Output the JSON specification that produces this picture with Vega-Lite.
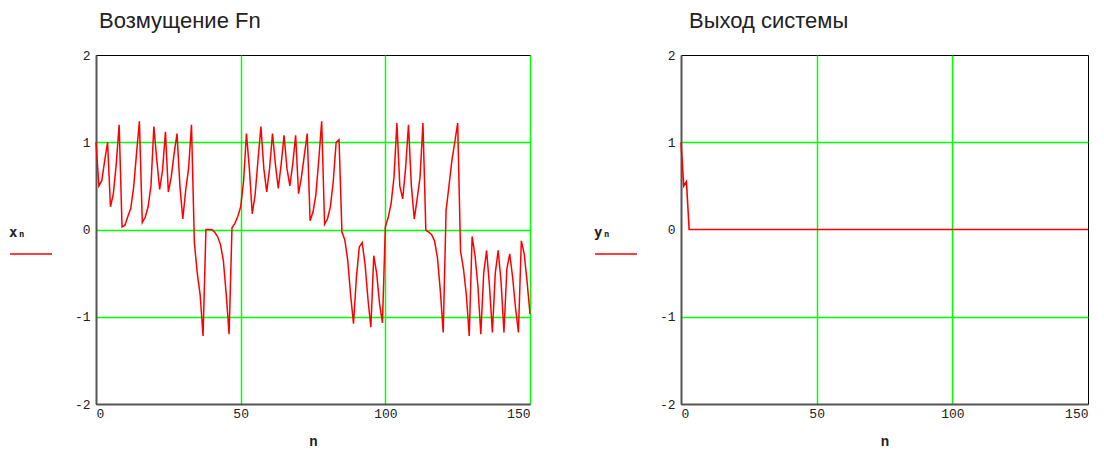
{
  "$schema": "https://vega.github.io/schema/vega-lite/v6.json",
  "padding": {"left": 8, "top": 9, "right": 5, "bottom": 5},
  "background": "white",
  "config": {
    "view": {"stroke": "black", "strokeWidth": 1},
    "axis": {
      "labelFont": "Liberation Mono", "labelFontSize": 13, "labelColor": "#222",
      "titleFont": "Liberation Mono", "titleFontSize": 14, "titleFontWeight": "bold", "titleColor": "#222",
      "ticks": false, "domainColor": "#555", "domainWidth": 2,
      "gridColor": "#00ff00", "gridWidth": 1.5, "gridOpacity": 1, "zindex": 0
    },
    "title": {"font": "Liberation Sans", "fontSize": 22, "fontWeight": "normal", "color": "#222", "anchor": "start", "frame": "group"},
    "legend": {"titleFont": "DejaVu Sans Mono", "titleFontSize": 14, "titleFontWeight": "bold", "titleColor": "#222", "padding": 0}
  },
  "datasets": {
    "fn": [
      {"n":0,"x":1.0},{"n":1,"x":0.5},{"n":2,"x":0.56},{"n":3,"x":0.79},{"n":4,"x":1.0},{"n":5,"x":0.26},{"n":6,"x":0.41},{"n":7,"x":0.75},{"n":8,"x":1.2},{"n":9,"x":0.03},
      {"n":10,"x":0.05},{"n":11,"x":0.15},{"n":12,"x":0.24},{"n":13,"x":0.48},{"n":14,"x":0.87},{"n":15,"x":1.24},{"n":16,"x":0.08},{"n":17,"x":0.14},{"n":18,"x":0.26},{"n":19,"x":0.5},
      {"n":20,"x":1.18},{"n":21,"x":0.8},{"n":22,"x":0.46},{"n":23,"x":0.68},{"n":24,"x":1.12},{"n":25,"x":0.43},{"n":26,"x":0.6},{"n":27,"x":0.87},{"n":28,"x":1.1},{"n":29,"x":0.5},
      {"n":30,"x":0.12},{"n":31,"x":0.45},{"n":32,"x":0.7},{"n":33,"x":1.2},{"n":34,"x":-0.15},{"n":35,"x":-0.5},{"n":36,"x":-0.75},{"n":37,"x":-1.22},{"n":38,"x":0.0},{"n":39,"x":0.0},
      {"n":40,"x":0.0},{"n":41,"x":-0.03},{"n":42,"x":-0.08},{"n":43,"x":-0.17},{"n":44,"x":-0.35},{"n":45,"x":-0.74},{"n":46,"x":-1.2},{"n":47,"x":0.02},{"n":48,"x":0.07},{"n":49,"x":0.15},
      {"n":50,"x":0.26},{"n":51,"x":0.55},{"n":52,"x":1.1},{"n":53,"x":0.7},{"n":54,"x":0.18},{"n":55,"x":0.4},{"n":56,"x":0.8},{"n":57,"x":1.18},{"n":58,"x":0.7},{"n":59,"x":0.43},
      {"n":60,"x":0.7},{"n":61,"x":1.1},{"n":62,"x":0.75},{"n":63,"x":0.47},{"n":64,"x":0.75},{"n":65,"x":1.08},{"n":66,"x":0.7},{"n":67,"x":0.5},{"n":68,"x":0.75},{"n":69,"x":1.08},
      {"n":70,"x":0.41},{"n":71,"x":0.6},{"n":72,"x":0.85},{"n":73,"x":1.1},{"n":74,"x":0.1},{"n":75,"x":0.2},{"n":76,"x":0.4},{"n":77,"x":0.8},{"n":78,"x":1.24},{"n":79,"x":0.06},
      {"n":80,"x":0.12},{"n":81,"x":0.26},{"n":82,"x":0.55},{"n":83,"x":1.0},{"n":84,"x":1.03},{"n":85,"x":-0.03},{"n":86,"x":-0.12},{"n":87,"x":-0.35},{"n":88,"x":-0.75},{"n":89,"x":-1.08},
      {"n":90,"x":-0.55},{"n":91,"x":-0.2},{"n":92,"x":-0.15},{"n":93,"x":-0.4},{"n":94,"x":-0.8},{"n":95,"x":-1.12},{"n":96,"x":-0.3},{"n":97,"x":-0.5},{"n":98,"x":-0.85},{"n":99,"x":-1.07},
      {"n":100,"x":0.03},{"n":101,"x":0.14},{"n":102,"x":0.3},{"n":103,"x":0.6},{"n":104,"x":1.22},{"n":105,"x":0.5},{"n":106,"x":0.35},{"n":107,"x":0.7},{"n":108,"x":1.2},{"n":109,"x":0.5},
      {"n":110,"x":0.12},{"n":111,"x":0.35},{"n":112,"x":0.6},{"n":113,"x":1.22},{"n":114,"x":-0.01},{"n":115,"x":-0.03},{"n":116,"x":-0.06},{"n":117,"x":-0.13},{"n":118,"x":-0.32},{"n":119,"x":-0.7},
      {"n":120,"x":-1.18},{"n":121,"x":0.22},{"n":122,"x":0.5},{"n":123,"x":0.79},{"n":124,"x":1.0},{"n":125,"x":1.22},{"n":126,"x":-0.25},{"n":127,"x":-0.45},{"n":128,"x":-0.75},{"n":129,"x":-1.22},
      {"n":130,"x":-0.08},{"n":131,"x":-0.3},{"n":132,"x":-0.65},{"n":133,"x":-1.2},{"n":134,"x":-0.5},{"n":135,"x":-0.24},{"n":136,"x":-0.65},{"n":137,"x":-1.18},{"n":138,"x":-0.5},{"n":139,"x":-0.24},
      {"n":140,"x":-0.6},{"n":141,"x":-1.18},{"n":142,"x":-0.45},{"n":143,"x":-0.28},{"n":144,"x":-0.55},{"n":145,"x":-0.9},{"n":146,"x":-1.18},{"n":147,"x":-0.13},{"n":148,"x":-0.28},{"n":149,"x":-0.6},
      {"n":150,"x":-0.97}
    ],
    "out": [
      {"n":0,"y":1.0},{"n":1,"y":0.5},{"n":2,"y":0.55},{"n":3,"y":0},{"n":4,"y":0},{"n":5,"y":0},{"n":6,"y":0},{"n":7,"y":0},{"n":8,"y":0},{"n":9,"y":0},
      {"n":10,"y":0},{"n":11,"y":0},{"n":12,"y":0},{"n":13,"y":0},{"n":14,"y":0},{"n":15,"y":0},{"n":16,"y":0},{"n":17,"y":0},{"n":18,"y":0},{"n":19,"y":0},
      {"n":20,"y":0},{"n":21,"y":0},{"n":22,"y":0},{"n":23,"y":0},{"n":24,"y":0},{"n":25,"y":0},{"n":26,"y":0},{"n":27,"y":0},{"n":28,"y":0},{"n":29,"y":0},
      {"n":30,"y":0},{"n":31,"y":0},{"n":32,"y":0},{"n":33,"y":0},{"n":34,"y":0},{"n":35,"y":0},{"n":36,"y":0},{"n":37,"y":0},{"n":38,"y":0},{"n":39,"y":0},
      {"n":40,"y":0},{"n":41,"y":0},{"n":42,"y":0},{"n":43,"y":0},{"n":44,"y":0},{"n":45,"y":0},{"n":46,"y":0},{"n":47,"y":0},{"n":48,"y":0},{"n":49,"y":0},
      {"n":50,"y":0},{"n":51,"y":0},{"n":52,"y":0},{"n":53,"y":0},{"n":54,"y":0},{"n":55,"y":0},{"n":56,"y":0},{"n":57,"y":0},{"n":58,"y":0},{"n":59,"y":0},
      {"n":60,"y":0},{"n":61,"y":0},{"n":62,"y":0},{"n":63,"y":0},{"n":64,"y":0},{"n":65,"y":0},{"n":66,"y":0},{"n":67,"y":0},{"n":68,"y":0},{"n":69,"y":0},
      {"n":70,"y":0},{"n":71,"y":0},{"n":72,"y":0},{"n":73,"y":0},{"n":74,"y":0},{"n":75,"y":0},{"n":76,"y":0},{"n":77,"y":0},{"n":78,"y":0},{"n":79,"y":0},
      {"n":80,"y":0},{"n":81,"y":0},{"n":82,"y":0},{"n":83,"y":0},{"n":84,"y":0},{"n":85,"y":0},{"n":86,"y":0},{"n":87,"y":0},{"n":88,"y":0},{"n":89,"y":0},
      {"n":90,"y":0},{"n":91,"y":0},{"n":92,"y":0},{"n":93,"y":0},{"n":94,"y":0},{"n":95,"y":0},{"n":96,"y":0},{"n":97,"y":0},{"n":98,"y":0},{"n":99,"y":0},
      {"n":100,"y":0},{"n":101,"y":0},{"n":102,"y":0},{"n":103,"y":0},{"n":104,"y":0},{"n":105,"y":0},{"n":106,"y":0},{"n":107,"y":0},{"n":108,"y":0},{"n":109,"y":0},
      {"n":110,"y":0},{"n":111,"y":0},{"n":112,"y":0},{"n":113,"y":0},{"n":114,"y":0},{"n":115,"y":0},{"n":116,"y":0},{"n":117,"y":0},{"n":118,"y":0},{"n":119,"y":0},
      {"n":120,"y":0},{"n":121,"y":0},{"n":122,"y":0},{"n":123,"y":0},{"n":124,"y":0},{"n":125,"y":0},{"n":126,"y":0},{"n":127,"y":0},{"n":128,"y":0},{"n":129,"y":0},
      {"n":130,"y":0},{"n":131,"y":0},{"n":132,"y":0},{"n":133,"y":0},{"n":134,"y":0},{"n":135,"y":0},{"n":136,"y":0},{"n":137,"y":0},{"n":138,"y":0},{"n":139,"y":0},
      {"n":140,"y":0},{"n":141,"y":0},{"n":142,"y":0},{"n":143,"y":0},{"n":144,"y":0},{"n":145,"y":0},{"n":146,"y":0},{"n":147,"y":0},{"n":148,"y":0},{"n":149,"y":0},
      {"n":150,"y":0}
    ]
  },
  "spacing": 151,
  "bounds": "flush",
  "resolve": {"scale": {"color": "independent"}, "legend": {"color": "independent"}},
  "hconcat": [
    {
      "title": {"text": "Возмущение Fn", "offset": 16, "dx": 3},
      "width": 434,
      "height": 349,
      "data": {"name": "fn"},
      "mark": {"type": "line", "strokeWidth": 1.5},
      "encoding": {
        "x": {"field": "n", "type": "quantitative", "scale": {"domain": [0, 150], "nice": false, "zero": false},
          "axis": {"values": [0, 50, 100, 150], "title": "n", "labelPadding": 3, "titlePadding": 14,
            "gridColor": {"condition": {"test": "datum.value === 0", "value": "transparent"}, "value": "#00ff00"}}},
        "y": {"field": "x", "type": "quantitative", "scale": {"domain": [-2, 2], "nice": false},
          "axis": {"values": [-2, -1, 0, 1, 2], "title": null, "labelPadding": 6, "labelExpr": "'' + datum.value",
            "gridColor": {"condition": {"test": "abs(datum.value) === 2", "value": "transparent"}, "value": "#00ff00"}}},
        "color": {"datum": "xₙ", "scale": {"range": ["#ff0000"]},
          "legend": {"title": "xₙ", "labelExpr": "''", "orient": "none", "legendX": -87, "legendY": 171,
            "symbolType": "stroke", "symbolSize": 1764, "symbolStrokeWidth": 1.5, "titlePadding": -8}}
      }
    },
    {
      "title": {"text": "Выход системы", "offset": 16, "dx": 8},
      "width": 407,
      "height": 349,
      "data": {"name": "out"},
      "mark": {"type": "line", "strokeWidth": 1.6},
      "encoding": {
        "x": {"field": "n", "type": "quantitative", "scale": {"domain": [0, 150], "nice": false, "zero": false},
          "axis": {"values": [0, 50, 100, 150], "title": "n", "labelPadding": 3, "titlePadding": 14,
            "gridColor": {"condition": {"test": "datum.value === 0 || datum.value === 150", "value": "transparent"}, "value": "#00ff00"}}},
        "y": {"field": "y", "type": "quantitative", "scale": {"domain": [-2, 2], "nice": false},
          "axis": {"values": [-2, -1, 0, 1, 2], "title": null, "labelPadding": 6, "labelExpr": "'' + datum.value",
            "gridColor": {"condition": {"test": "abs(datum.value) === 2 || datum.value === 0", "value": "transparent"}, "value": "#00ff00"}}},
        "color": {"datum": "yₙ", "scale": {"range": ["#ff0000"]},
          "legend": {"title": "yₙ", "labelExpr": "''", "orient": "none", "legendX": -87, "legendY": 171,
            "symbolType": "stroke", "symbolSize": 1764, "symbolStrokeWidth": 1.5, "titlePadding": -8}}
      }
    }
  ]
}
